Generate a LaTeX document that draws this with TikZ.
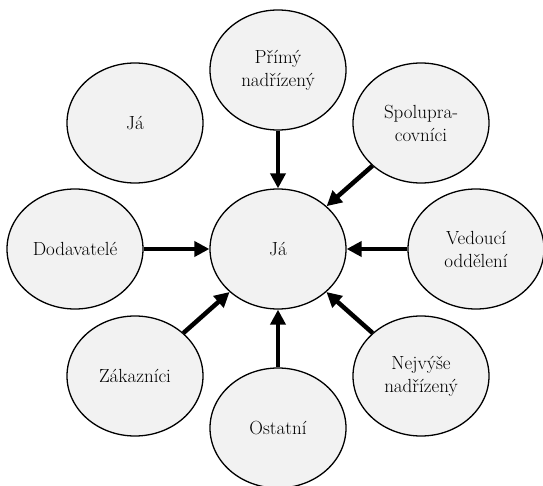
\documentclass[tikz,border=0pt]{standalone}
\usepackage{fontspec}
\usetikzlibrary{shapes.geometric,arrows.meta}
\definecolor{bubble}{HTML}{F2F2F2}
\begin{document}
\begin{tikzpicture}[x=1pt,y=1pt,
  bubble/.style={ellipse, draw=black, line width=1.3pt, fill=bubble,
    minimum width=136pt, minimum height=120pt, inner sep=0pt,
    align=center, font=\fontsize{19}{23}\selectfont},
  link/.style={line width=4.5pt, -{Triangle[length=15pt,width=15pt]}}]
\useasboundingbox (0,0) rectangle (543,485);
\node[bubble] (c)  at (278,236) {Já};
\node[bubble] (t)  at (278,415) {Přímý\\nadřízený};
\node[bubble] (tl) at (135,362) {Já};
\node[bubble] (tr) at (421,362) {Spolupra-\\covníci};
\node[bubble] (l)  at (75,236)  {Dodavatelé};
\node[bubble] (r)  at (476,236) {Vedoucí\\oddělení};
\node[bubble] (bl) at (135,109) {Zákazníci};
\node[bubble] (br) at (421,109) {Nejvýše\\nadřízený};
\node[bubble] (b)  at (278,57)  {Ostatní};
\draw[link] (t) -- (c);
\draw[link] (tr) -- (c);
\draw[link] (l) -- (c);
\draw[link] (r) -- (c);
\draw[link] (bl) -- (c);
\draw[link] (br) -- (c);
\draw[link] (b) -- (c);
\end{tikzpicture}
\end{document}
